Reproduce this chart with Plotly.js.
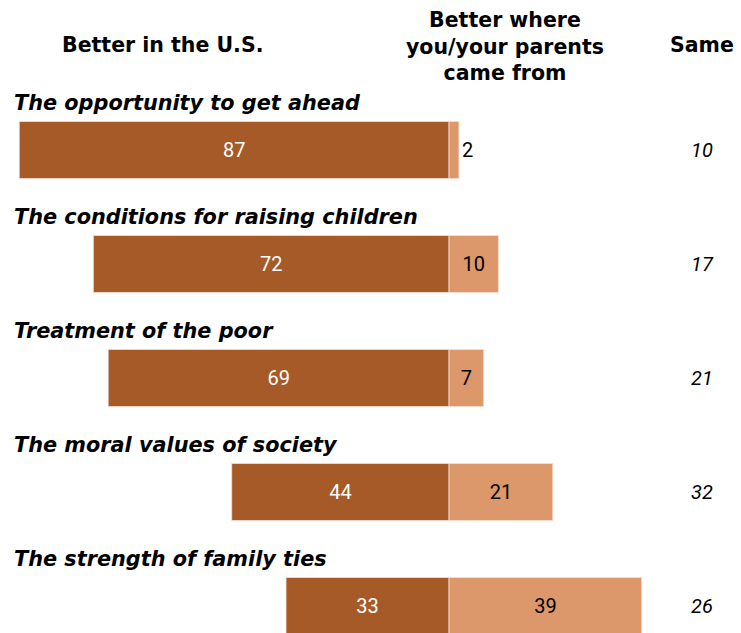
<!DOCTYPE html>
<html><head><meta charset="utf-8">
<script src="https://cdn.plot.ly/plotly-3.0.1.min.js"></script>
<style>html,body{margin:0;padding:0;background:#fff}</style>
</head><body><div id="chart" style="width:741px;height:633px"></div>
<script>
const categories = ["The opportunity to get ahead","The conditions for raising children","Treatment of the poor","The moral values of society","The strength of family ties"];
const betterUS = [87, 72, 69, 44, 33];
const betterOrigin = [2, 10, 7, 21, 39];
const same = [10, 17, 21, 32, 26];
const headers = ["Better in the U.S.", "Better where<br>you/your parents<br>came from", "Same"];

const idx = categories.map((c,i)=>i);
const numFont = "Roboto, 'Liberation Sans', sans-serif";
const headFont = "'DejaVu Sans', Verdana, sans-serif";
const catFont = "'DejaVu Sans', Verdana, sans-serif";

const traces = [
  {type:'bar', orientation:'h', y: idx, x: betterUS.map(v=>-v), base: 0,
   width:0.5, marker:{color:'#A65A27', line:{color:'#F3E0D3', width:0.8}},
   text: betterUS.map(String), textposition:'inside', insidetextanchor:'middle',
   textfont:{color:'#ffffff', size:20, family:numFont}, hoverinfo:'none'},
  {type:'bar', orientation:'h', y: idx, x: betterOrigin, base: 0,
   width:0.5, marker:{color:'#DC976A', line:{color:'#F3E0D3', width:0.8}},
   text: betterOrigin.map(String), textposition:'auto', insidetextanchor:'middle',
   insidetextfont:{color:'#000000', size:20, family:numFont},
   outsidetextfont:{color:'#000000', size:20, family:numFont}, hoverinfo:'none'}
];

const annotations = [];
categories.forEach((c,i)=>{
  annotations.push({xref:'paper', yref:'y', x:0.016, y:i-0.41, xanchor:'left', yanchor:'middle',
    text:'<b><i>'+c+'</i></b>', showarrow:false, font:{family:catFont, size:20.8, color:'#000'}});
  annotations.push({xref:'x', yref:'y', x:51.3, y:i, xanchor:'center', yanchor:'middle',
    text:'<i>'+same[i]+'</i>', showarrow:false, font:{family:numFont, size:20, color:'#000'}});
});
const hf = {family:headFont, size:20.5, color:'#000'};
annotations.push({xref:'paper', yref:'paper', x:162/741, y:1-45/633, xanchor:'center', yanchor:'middle',
  text:'<b>'+headers[0]+'</b>', showarrow:false, font:hf});
annotations.push({xref:'paper', yref:'paper', x:505/741, y:1-47/633, xanchor:'center', yanchor:'middle',
  text:'<b>'+headers[1]+'</b>', showarrow:false, font:hf});
annotations.push({xref:'paper', yref:'paper', x:702/741, y:1-45/633, xanchor:'center', yanchor:'middle',
  text:'<b>'+headers[2]+'</b>', showarrow:false, font:hf});

const layout = {
  width:741, height:633, margin:{l:0,r:0,t:0,b:0},
  paper_bgcolor:'#fff', plot_bgcolor:'#fff',
  barmode:'overlay', showlegend:false,
  xaxis:{range:[-90.9, 59.1], visible:false, fixedrange:true},
  yaxis:{range:[4.237, -1.316], visible:false, fixedrange:true},
  annotations: annotations
};
Plotly.newPlot('chart', traces, layout, {displayModeBar:false, staticPlot:true});
</script></body></html>
